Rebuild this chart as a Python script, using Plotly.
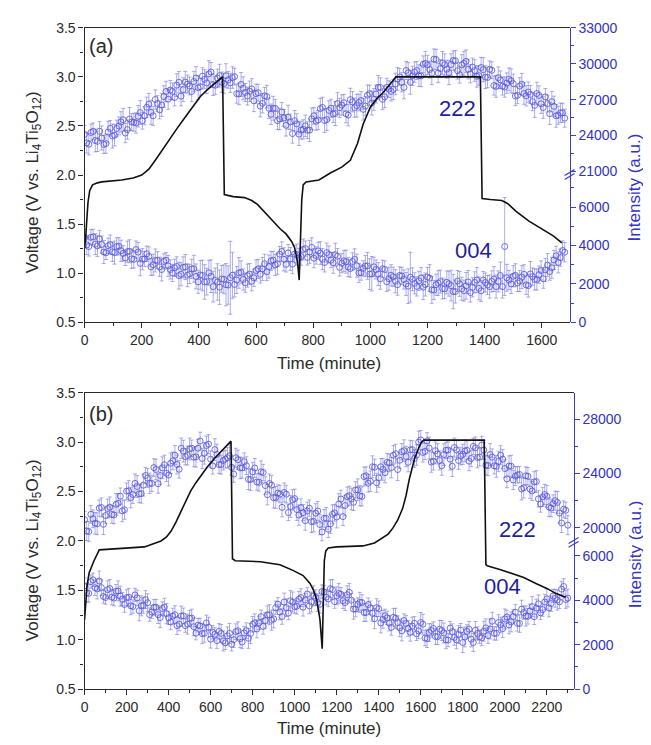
import plotly.graph_objects as go

# ---------------- data: panel (a) ----------------
t_a = list(range(0, 1681, 15))                    # measurement times (minute)
t_a_mid = [7.5 + 15 * k for k in range(112)]      # interleaved measurement times
i222_a = [24100, 23280, 24350, 23520, 23800, 23330, 24600, 24030, 24800, 25320,
          24500, 25130, 25050, 25920, 25650, 26620, 25650, 26680, 26550, 27680,
          27800, 27180, 28450, 27830, 28300, 27680, 28800, 28080, 28700, 29150,
          28250, 28800, 28450, 29000, 28400, 28920, 27480, 27950, 27300, 27900,
          27500, 26460, 27320, 26280, 26280, 25250, 25970, 24860, 25150, 25240,
          24120, 24520, 24450, 25400, 25200, 26250, 25250, 26100, 25800, 26680,
          26550, 25820, 27000, 26330, 26760, 26190, 27370, 26720, 27470, 28020,
          27230, 27880, 27850, 28720, 28450, 29430, 28450, 29300, 29000, 29950,
          29900, 29210, 30350, 29590, 29920, 29250, 30260, 29410, 29900, 30200,
          29150, 29430, 29000, 29500, 28850, 29450, 28100, 28650, 28050, 28700,
          28330, 27360, 28290, 27320, 27430, 26520, 27350, 26340, 26670, 26830,
          25650, 25900, 25450]
i222_a_mid = [23390, 24260, 23590, 24360, 23260, 24290, 23960, 24590, 25140, 24210,
              25390, 25110, 25610, 25240, 26360, 25940, 27010, 26140, 27260, 27040,
              27690, 28210, 27290, 28460, 28140, 28510, 27990, 28960, 28400, 29300,
              28200, 29000, 28350, 28650, 28840, 27500, 28270, 27600, 27700, 26900,
              27580, 26690, 27250, 25780, 26270, 25390, 25470, 25530, 24170, 24980,
              24450, 24810, 24450, 25650, 25300, 26350, 25330, 26280, 25840, 26320,
              26740, 25710, 26820, 26500, 26930, 26460, 27500, 27020, 28020, 27030,
              28030, 27690, 28310, 28890, 28020, 29240, 28980, 29430, 28980, 30030,
              29510, 30380, 29220, 30060, 29540, 29930, 30240, 29080, 30030, 29530,
              29720, 28940, 29680, 28880, 29530, 28180, 28830, 28130, 28380, 28570,
              27300, 28130, 27510, 27630, 26830, 27510, 26650, 27230, 25830, 26440,
              25700, 25900]
e222_a = [750, 900, 700, 850, 1000, 800, 650, 900, 750, 950, 800, 700, 850, 1000, 750, 900, 800, 650, 950, 850,
          800, 700, 900, 1000, 750, 850, 950, 700, 800, 1100, 900, 750, 850, 1000, 800, 700, 900, 950, 750, 850,
          800, 900, 700, 850, 1000, 750, 800, 900, 650, 850, 950, 800, 700, 900, 750, 850, 1000, 800, 700, 900,
          850, 750, 950, 800, 700, 900, 850, 1000, 750, 800, 900, 700, 850, 950, 800, 750, 1000, 850, 900, 700,
          800, 950, 850, 750, 900, 1000, 800, 700, 850, 950, 750, 900, 800, 1000, 850, 700, 900, 750, 850, 950,
          800, 700, 900, 850, 750, 1000, 800, 900, 700, 850, 950, 800, 750]
e222_a_mid = [850, 700, 950, 800, 750, 900, 1000, 700, 850, 800, 950, 750, 900, 700, 850, 1000, 800, 750, 900, 850,
              700, 950, 800, 900, 750, 850, 1000, 700, 900, 800, 750, 950, 850, 700, 900, 800, 1000, 750, 850, 900,
              700, 800, 950, 850, 750, 900, 700, 1000, 800, 850, 750, 900, 950, 700, 800, 850, 900, 750, 1000, 800,
              700, 900, 850, 950, 750, 800, 700, 900, 1000, 850, 750, 800, 900, 700, 950, 850, 800, 750, 900, 1000,
              700, 850, 800, 950, 750, 900, 850, 700, 1000, 800, 750, 900, 850, 950, 700, 800, 900, 750, 850, 1000,
              800, 700, 900, 850, 750, 950, 800, 700, 900, 850, 750, 800]
i004_a = [4400, 3950, 4450, 3980, 4050, 3620, 4050, 3630, 3960, 3590,
          3680, 3310, 3790, 3070, 3300, 3430, 3000, 3230, 2750, 3230,
          2750, 2840, 2430, 2860, 2450, 2780, 2390, 2470, 2100, 2580,
          1860, 2100, 2260, 1960, 2320, 1970, 2570, 2230, 2430, 2140,
          2700, 2500, 3050, 2900, 3240, 3050, 3690, 3020, 3300, 3550,
          3350, 3790, 3380, 3900, 3480, 3600, 3120, 3530, 3100, 3440,
          3080, 3160, 2800, 3280, 2570, 2810, 2940, 2530, 2750, 2270,
          2750, 2270, 2370, 1960, 2410, 2000, 2350, 2030, 2160, 1830,
          2360, 1690, 1960, 2120, 1740, 2010, 1600, 2150, 1750, 1900,
          1550, 2080, 1770, 2200, 1940, 2130, 1860, 2440, 3950, 2200,
          2400, 2050, 2350, 1950, 2520, 2230, 2480, 2270, 2980, 2840,
          3460, 3370, 3650]
i004_a_mid = [4030, 4430, 4070, 4340, 3660, 3990, 3670, 3950, 3730, 3360,
              3700, 3280, 3660, 3290, 3570, 2890, 3220, 2890, 3170, 2940,
              2570, 2910, 2500, 2880, 2520, 2790, 2110, 2440, 2120, 2400,
              2180, 1830, 2240, 1940, 2450, 2200, 2600, 2060, 2510, 2320,
              2780, 2780, 2630, 3200, 2990, 3550, 3280, 3610, 3030, 3530,
              3420, 3840, 3670, 3340, 3720, 3290, 3630, 3240, 3520, 2860,
              3200, 2880, 3170, 2950, 2590, 2930, 2510, 2890, 2510, 2790,
              2110, 2450, 2140, 2440, 2230, 1880, 2240, 1870, 2300, 1970,
              2300, 1680, 2040, 1760, 2080, 1910, 1600, 2000, 1650, 2100,
              1820, 2200, 1640, 2070, 1860, 2250, 2130, 1860, 2320, 2000,
              2450, 2150, 2500, 1910, 2380, 2230, 2700, 2730, 2640, 3250,
              3120, 3740]
e004_a = [450, 500, 400, 550, 450, 350, 500, 600, 450, 400, 550, 500, 450, 650, 400, 500, 550, 450, 600, 400,
          500, 450, 700, 550, 600, 500, 650, 750, 900, 650, 800, 950, 700, 1100, 1900, 650, 800, 550, 600, 500,
          550, 450, 500, 600, 450, 550, 500, 400, 600, 450, 500, 550, 400, 500, 450, 600, 500, 450, 550, 400,
          500, 600, 450, 550, 500, 400, 700, 900, 500, 550, 450, 600, 500, 550, 450, 600, 1300, 550, 500, 650,
          500, 700, 550, 600, 500, 650, 900, 550, 600, 700, 500, 550, 600, 450, 500, 550, 600, 700, 2550, 500,
          550, 450, 600, 500, 650, 550, 450, 500, 600, 550, 500, 450, 500]
e004_a_mid = [500, 400, 550, 450, 600, 400, 500, 450, 550, 400, 600, 450, 500, 550, 400, 450, 600, 500, 400, 550,
              450, 500, 600, 650, 500, 700, 600, 800, 700, 850, 650, 900, 750, 1000, 1200, 700, 600, 500, 550, 450,
              500, 600, 450, 500, 550, 400, 600, 450, 500, 550, 450, 400, 600, 500, 450, 550, 500, 400, 600, 450,
              550, 500, 450, 600, 400, 550, 800, 500, 600, 450, 500, 550, 600, 450, 500, 900, 600, 500, 550, 600,
              700, 500, 650, 550, 600, 800, 600, 650, 550, 600, 500, 650, 550, 500, 600, 650, 550, 600, 700, 500,
              600, 550, 500, 600, 450, 550, 500, 600, 450, 500, 550, 500]
vt_a = [0, 4, 8, 12, 18, 28, 45, 60, 130, 170, 200, 225, 250, 275, 300, 325, 350, 380, 405, 430,
        455, 483, 489, 520, 560, 585, 605, 630, 660, 685, 705, 725, 735, 745, 751, 755, 760, 765, 775, 820,
        860, 900, 930, 955, 975, 1000, 1020, 1045, 1070, 1090, 1385, 1391, 1420, 1460, 1480, 1510, 1555, 1600, 1640, 1670]
vv_a = [1.25, 1.36, 1.55, 1.72, 1.84, 1.90, 1.92, 1.93, 1.95, 1.97, 2.00, 2.06, 2.16, 2.27, 2.38, 2.48, 2.58, 2.70, 2.80, 2.87,
        2.93, 3.00, 1.80, 1.78, 1.77, 1.74, 1.70, 1.62, 1.52, 1.45, 1.40, 1.32, 1.26, 1.12, 0.93, 1.30, 1.75, 1.90, 1.93, 1.95,
        2.02, 2.08, 2.15, 2.32, 2.52, 2.69, 2.77, 2.84, 2.93, 3.00, 3.00, 1.76, 1.75, 1.74, 1.71, 1.63, 1.53, 1.45, 1.38, 1.31]

# ---------------- data: panel (b) ----------------
t_b = list(range(0, 2301, 20))                    # measurement times (minute)
t_b_mid = [10 + 20 * k for k in range(115)]       # interleaved measurement times
i222_b = [20600, 19730, 20670, 20300, 21500, 20910, 21520, 20950, 21800, 21250,
          22700, 22230, 23270, 22500, 23140, 23660, 23270, 24290, 23850, 24640,
          23880, 24920, 24660, 25850, 25230, 25800, 25190, 25850, 25100, 26050,
          25050, 25750, 24650, 24950, 25150, 24450, 25150, 24410, 24860, 23570,
          24120, 23370, 24120, 23110, 23260, 22210, 22560, 21510, 22480, 21570,
          22150, 20940, 21120, 21240, 20460, 21080, 20250, 20700, 19900, 21000,
          20800, 22120, 21640, 22360, 21880, 22800, 22310, 23830, 23430, 24450,
          23680, 24300, 24820, 24430, 25450, 24970, 25670, 24820, 25750, 25350,
          26460, 25620, 25870, 24900, 25440, 24570, 25700, 25050, 25900, 24950,
          25400, 25700, 25100, 25880, 25200, 25720, 24580, 25200, 24520, 25340,
          24360, 24540, 23520, 23890, 22860, 23830, 22850, 23380, 22130, 22280,
          22320, 21460, 22000, 21090, 21380, 20200]
i222_b_mid = [19770, 21000, 20340, 21450, 20260, 21420, 20990, 21730, 22330, 21330,
              22720, 22450, 23040, 22520, 23850, 23270, 24430, 23250, 24420, 24010,
              24750, 25340, 24310, 25640, 25320, 25850, 25220, 26380, 25480, 26150,
              24550, 25400, 24650, 25050, 25300, 23950, 25010, 24410, 24570, 23550,
              24400, 23350, 24070, 22440, 23140, 22240, 22490, 22600, 21130, 22060,
              21350, 21480, 20530, 21450, 20470, 21240, 19700, 20700, 20300, 21100,
              21760, 20830, 22300, 22120, 22790, 22355, 23770, 23280, 24490, 23315,
              24490, 24060, 24775, 25340, 24285, 25595, 25245, 25735, 25100, 26305,
              25540, 26395, 24835, 25670, 24955, 25385, 25725, 24525, 25725, 25275,
              25650, 24900, 25990, 25165, 26085, 24600, 25390, 24560, 24880, 25050,
              23600, 24530, 23805, 23925, 22945, 23790, 22715, 23405, 21755, 22450,
              21540, 21780, 21870, 20360, 21290]
e222_b = [600, 750, 650, 800, 700, 600, 750, 650, 700, 800, 600, 750, 700, 650, 800, 700, 600, 750, 650, 700,
          800, 650, 700, 750, 600, 800, 700, 650, 750, 700, 600, 800, 650, 700, 750, 600, 700, 800, 650, 750,
          700, 600, 800, 650, 700, 750, 600, 700, 650, 800, 700, 750, 600, 650, 800, 700, 750, 650, 600, 700,
          800, 650, 750, 700, 600, 800, 700, 650, 750, 600, 700, 800, 650, 750, 700, 600, 800, 700, 650, 750,
          700, 600, 800, 650, 750, 700, 600, 800, 700, 650, 750, 700, 600, 800, 650, 700, 750, 600, 800, 700,
          650, 750, 700, 600, 800, 650, 700, 750, 600, 700, 800, 650, 700, 750, 600, 700]
e222_b_mid = [700, 650, 800, 600, 750, 700, 650, 800, 600, 700, 750, 650, 800, 700, 600, 750, 650, 700, 800, 600,
              750, 700, 650, 800, 700, 600, 750, 650, 800, 700, 600, 750, 700, 650, 800, 600, 700, 750, 650, 800,
              700, 650, 600, 750, 700, 800, 650, 700, 600, 750, 800, 650, 700, 600, 750, 700, 650, 800, 700, 600,
              750, 650, 700, 800, 600, 750, 700, 650, 800, 700, 600, 750, 650, 700, 800, 600, 750, 700, 650, 800,
              700, 600, 750, 650, 700, 800, 600, 750, 700, 650, 800, 700, 600, 750, 650, 700, 800, 600, 750, 700,
              650, 800, 700, 600, 750, 650, 700, 800, 600, 750, 700, 650, 800, 700, 600]
i004_b = [4650, 4310, 4920, 4510, 4570, 4120, 4530, 4100, 4420, 4050,
          4120, 3750, 4240, 3530, 3770, 3890, 3470, 3690, 3220, 3690,
          3210, 3290, 2860, 3290, 2860, 3190, 2810, 2880, 2500, 2980,
          2250, 2470, 2600, 2170, 2400, 2020, 2590, 2270, 2530, 2290,
          2920, 2710, 3260, 3090, 3350, 3160, 3820, 3270, 3670, 3980,
          3710, 4050, 3690, 4280, 3920, 4120, 3820, 4370, 4060, 4480,
          4200, 4270, 3890, 4360, 3600, 3810, 3900, 3450, 3660, 3170,
          3620, 3140, 3210, 2780, 3190, 2760, 3090, 2730, 2840, 2490,
          3000, 2300, 2550, 2730, 2360, 2640, 2220, 2750, 2330, 2460,
          2100, 2600, 2250, 2650, 2360, 2610, 2410, 3060, 2510, 2890,
          3160, 2890, 3270, 2960, 3600, 3290, 3520, 3260, 3840, 3580,
          4060, 3850, 4090, 3930, 4620, 4100]
i004_b_mid = [4330, 4840, 4565, 4865, 4170, 4475, 4140, 4410, 4185, 3810,
              4135, 3720, 4110, 3750, 4030, 3355, 3680, 3355, 3630, 3400,
              3025, 3350, 2925, 3300, 2925, 3200, 2520, 2840, 2515, 2790,
              2560, 2185, 2510, 2085, 2510, 2230, 2630, 2125, 2635, 2505,
              2990, 2985, 2825, 3345, 3105, 3665, 3470, 3920, 3425, 3920,
              3730, 4120, 4010, 3750, 4195, 3895, 4395, 4140, 4520, 3940,
              4310, 3980, 4250, 4005, 3605, 3905, 3450, 3805, 3415, 3670,
              2980, 3300, 2970, 3235, 3000, 2625, 2960, 2560, 2965, 2620,
              2925, 2275, 2640, 2370, 2700, 2530, 2210, 2590, 2220, 2655,
              2350, 2700, 2100, 2505, 2310, 2760, 2710, 2510, 3000, 2725,
              3250, 3030, 3465, 2955, 3445, 3280, 3715, 3650, 3435, 3920,
              3655, 4195, 4010, 4500, 4035]
e004_b = [350, 400, 300, 450, 350, 300, 400, 350, 450, 300, 350, 400, 300, 450, 350, 400, 300, 350, 450, 400,
          300, 350, 400, 450, 300, 350, 400, 300, 450, 350, 400, 300, 350, 450, 400, 300, 350, 400, 300, 450,
          350, 400, 300, 350, 450, 400, 300, 350, 400, 450, 300, 350, 400, 300, 450, 350, 400, 300, 350, 450,
          400, 300, 350, 400, 450, 300, 350, 400, 300, 450, 350, 400, 300, 350, 450, 400, 300, 350, 400, 300,
          450, 350, 400, 300, 350, 450, 400, 300, 350, 400, 450, 300, 350, 400, 300, 450, 350, 400, 300, 350,
          450, 400, 300, 350, 400, 450, 300, 350, 400, 300, 450, 350, 400, 300, 350, 400]
e004_b_mid = [400, 300, 350, 450, 300, 400, 350, 300, 450, 350, 400, 300, 350, 450, 400, 300, 350, 400, 300, 450,
              350, 400, 300, 350, 450, 400, 300, 350, 400, 450, 300, 350, 400, 300, 450, 350, 400, 300, 350, 450,
              400, 300, 350, 400, 450, 300, 350, 400, 300, 450, 350, 400, 300, 350, 450, 400, 300, 350, 400, 300,
              450, 350, 400, 300, 350, 450, 400, 300, 350, 400, 450, 300, 350, 400, 300, 450, 350, 400, 300, 350,
              450, 400, 300, 350, 400, 450, 300, 350, 400, 300, 450, 350, 400, 300, 350, 400, 450, 300, 350, 400,
              300, 450, 350, 400, 300, 350, 450, 400, 300, 350, 400, 300, 450, 350, 400]
vt_b = [0, 5, 12, 22, 45, 70, 150, 285, 364, 390, 412, 435, 459, 480, 506, 530, 553, 585, 616, 650,
        680, 697, 704, 717, 837, 930, 994, 1040, 1073, 1090, 1105, 1120, 1131, 1136, 1141, 1148, 1160, 1200, 1325, 1380,
        1420, 1445, 1467, 1490, 1514, 1530, 1546, 1570, 1590, 1603, 1615, 1902, 1910, 1916, 1980, 2034, 2090, 2148, 2200, 2242,
        2290]
vv_b = [1.20, 1.40, 1.55, 1.68, 1.80, 1.91, 1.92, 1.94, 2.00, 2.04, 2.10, 2.19, 2.30, 2.40, 2.51, 2.59, 2.66, 2.75, 2.83, 2.91,
        2.98, 3.01, 1.82, 1.80, 1.79, 1.76, 1.70, 1.65, 1.57, 1.50, 1.40, 1.21, 0.91, 1.40, 1.80, 1.90, 1.93, 1.94, 1.95, 1.98,
        2.03, 2.07, 2.13, 2.21, 2.33, 2.46, 2.63, 2.83, 2.94, 3.00, 3.02, 3.02, 1.76, 1.75, 1.71, 1.67, 1.63, 1.57, 1.52, 1.47,
        1.43]

# ---------------- styling ----------------
W, H = 651, 745
FONT = "Liberation Sans, Arial, sans-serif"
DARK = "#2a2a2a"
BLUE_AX = "#3c3cd0"
BLUE_TXT = "#3333c4"
MARK = "rgba(88,88,222,0.85)"
ERR = "rgba(115,115,228,0.75)"


def px(x):
    return x / W


def py(y):
    return 1 - y / H


fig = go.Figure()


def add_intensity(t, v, e, t2, v2, e2, xa, ya):
    fig.add_trace(go.Scatter(
        x=t + t2, y=v + v2, xaxis=xa, yaxis=ya, mode="markers",
        marker=dict(symbol="circle-open", size=6, color=MARK, line=dict(width=1, color=MARK)),
        error_y=dict(type="data", array=e + e2, visible=True, color=ERR, thickness=0.8, width=2),
        showlegend=False, hoverinfo="x+y"))


def add_voltage(t, v, xa, ya):
    fig.add_trace(go.Scatter(
        x=t, y=v, xaxis=xa, yaxis=ya, mode="lines",
        line=dict(color="#111111", width=1.6), showlegend=False))


# panel (a): y = 004 lower, y2 = 222 upper, y3 = voltage
add_intensity(t_a, i004_a, e004_a, t_a_mid, i004_a_mid, e004_a_mid, "x", "y")
add_intensity(t_a, i222_a, e222_a, t_a_mid, i222_a_mid, e222_a_mid, "x", "y2")
add_voltage(vt_a, vv_a, "x", "y3")
# panel (b): y4 = 004 lower, y5 = 222 upper, y6 = voltage
add_intensity(t_b, i004_b, e004_b, t_b_mid, i004_b_mid, e004_b_mid, "x2", "y4")
add_intensity(t_b, i222_b, e222_b, t_b_mid, i222_b_mid, e222_b_mid, "x2", "y5")
add_voltage(vt_b, vv_b, "x2", "y6")

tickfont_dark = dict(family=FONT, size=14, color=DARK)
tickfont_blue = dict(family=FONT, size=14, color=BLUE_TXT)


def xaxis_cfg(domain, rng, anchor):
    return dict(domain=domain, range=rng, anchor=anchor, dtick=200, tick0=0,
                ticks="outside", ticklen=5, tickwidth=1, tickcolor=DARK,
                minor=dict(dtick=100, ticks="outside", ticklen=3, tickcolor=DARK),
                showline=True, linecolor=DARK, linewidth=1.2, mirror=True,
                showgrid=False, zeroline=False, tickfont=tickfont_dark)


def vaxis_cfg(domain, anchor):
    return dict(domain=domain, range=[0.5, 3.5], anchor=anchor, dtick=0.5, tick0=0.5,
                tickformat=".1f", ticks="outside", ticklen=5, tickcolor=DARK,
                minor=dict(dtick=0.25, ticks="outside", ticklen=3, tickcolor=DARK),
                showline=True, linecolor=DARK, linewidth=1.2, mirror=False,
                showgrid=False, zeroline=False, tickfont=tickfont_dark)


def iaxis_cfg(domain, rng, anchor, dtick, mdtick, tick0=0):
    return dict(domain=domain, range=rng, anchor=anchor, side="right",
                dtick=dtick, tick0=tick0, tickformat="d", exponentformat="none",
                ticks="outside", ticklen=5, tickcolor=BLUE_AX,
                minor=dict(dtick=mdtick, tick0=0, ticks="outside", ticklen=3, tickcolor=BLUE_AX),
                showline=True, linecolor=BLUE_AX, linewidth=1.2,
                showgrid=False, zeroline=False, tickfont=tickfont_blue)


xa_dom = [px(73), px(561)]
xb_dom = [px(73), px(565)]

layout = dict(
    width=W, height=H, margin=dict(l=0, r=0, t=0, b=0),
    paper_bgcolor="white", plot_bgcolor="rgba(0,0,0,0)",
    font=dict(family=FONT, color=DARK, size=14),
    xaxis=xaxis_cfg(xa_dom, [0, 1697], "y3"),
    yaxis=iaxis_cfg([py(313), py(162)], [0, 7700], "x", 2000, 1000),
    yaxis2=iaxis_cfg([py(162), py(12)], [20750, 33000], "x", 3000, 1500, tick0=21000),
    yaxis3=vaxis_cfg([py(313), py(12)], "x"),
    xaxis2=xaxis_cfg(xb_dom, [0, 2327], "y6"),
    yaxis4=iaxis_cfg([py(688), py(538)], [0, 6600], "x2", 2000, 1000),
    yaxis5=iaxis_cfg([py(538), py(385)], [18930, 29930], "x2", 4000, 2000, tick0=20000),
    yaxis6=vaxis_cfg([py(688), py(385)], "x2"),
)
fig.update_layout(**layout)

ann = []


def text(x, y, s, size, color, angle=0):
    ann.append(dict(x=px(x), y=py(y), xref="paper", yref="paper", text=s, showarrow=False,
                    textangle=angle, xanchor="center", yanchor="middle",
                    font=dict(family=FONT, size=size, color=color)))


vlabel = "Voltage (V vs. Li<sub>4</sub>Ti<sub>5</sub>O<sub>12</sub>)"
text(22, 170, vlabel, 17, DARK, -90)
text(22, 546, vlabel, 17, DARK, -90)
text(626, 175, "Intensity (a.u.)", 17, BLUE_TXT, -90)
text(627, 550, "Intensity (a.u.)", 17, BLUE_TXT, -90)
text(319, 355, "Time (minute)", 17, DARK)
text(319, 728, "Time (minute)", 17, DARK)
text(90, 31, "(a)", 20, DARK)
text(90, 407, "(b)", 20, DARK)
text(448, 95, "222", 22, "#1f1fa0")
text(464, 240, "004", 22, "#1f1fa0")
text(509, 525, "222", 22, "#1f1fa0")
text(494, 583, "004", 22, "#1f1fa0")
fig.update_layout(annotations=ann)

# axis-break marks on the right intensity axes
shapes = []
for (xc, yc) in [(561, 162), (565, 538)]:
    for dy in (2, -2):
        shapes.append(dict(type="line", xref="paper", yref="paper",
                           x0=px(xc - 5), y0=py(yc + dy + 3), x1=px(xc + 5), y1=py(yc + dy - 3),
                           line=dict(color=BLUE_AX, width=1.2)))
fig.update_layout(shapes=shapes)

fig.write_html("out.html")
